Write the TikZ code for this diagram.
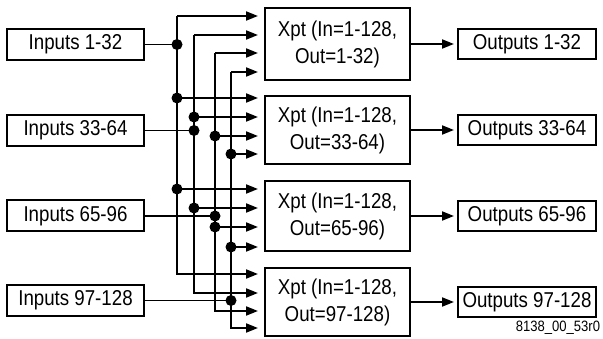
\documentclass[tikz,border=0pt]{standalone}
\usepackage{fontspec}
\setmainfont{Liberation Sans}[FakeStretch=0.87]
\usetikzlibrary{arrows.meta}
\begin{document}
\begin{tikzpicture}[x=1pt,y=-1pt,
  line width=1.9pt,
  iobox/.style={draw,line width=2pt,minimum width=137pt,minimum height=31pt,inner sep=0pt,
     font=\fontsize{21.5}{26}\selectfont},
  xbox/.style={draw,line width=2pt,minimum width=145pt,minimum height=70pt,inner sep=0pt,align=center,
     font=\fontsize{21.5}{27}\selectfont},
  arr/.style={-{Triangle[length=12pt,width=9pt]}},
  dot/.style={circle,fill,inner sep=0pt,minimum size=11pt}]
\useasboundingbox (0,0) rectangle (603,339);
% input boxes
\node[iobox] (in1) at (75.5,44.5) {Inputs 1-32};
\node[iobox] (in2) at (75.5,130.5) {Inputs 33-64};
\node[iobox] (in3) at (75.5,216) {Inputs 65-96};
\node[iobox] (in4) at (75.5,300.5) {Inputs 97-128};
% xpt boxes
\node[xbox,minimum height=72pt] (x1) at (337.5,44) {Xpt (In=1-128,\\Out=1-32)};
\node[xbox,minimum height=68pt] (x2) at (337.5,130) {Xpt (In=1-128,\\Out=33-64)};
\node[xbox,minimum height=70pt] (x3) at (337.5,216) {Xpt (In=1-128,\\Out=65-96)};
\node[xbox,minimum height=68pt] (x4) at (337.5,302) {Xpt (In=1-128,\\Out=97-128)};
% output boxes
\node[iobox,minimum width=138pt,minimum height=30pt] (o1) at (527,44) {Outputs 1-32};
\node[iobox,minimum width=138pt,minimum height=30pt] (o2) at (527,130) {Outputs 33-64};
\node[iobox,minimum width=138pt,minimum height=30pt] (o3) at (527,216) {Outputs 65-96};
\node[iobox,minimum width=138pt,minimum height=30pt] (o4) at (527,302) {Outputs 97-128};
\node[anchor=base east,inner sep=0pt,font=\fontsize{15}{18}\selectfont] (lbl) at (601,332) {8138\_00\_53r0};
% bus x positions
\coordinate (b1) at (177,0);
\coordinate (b2) at (194,0);
\coordinate (b3) at (215,0);
\coordinate (b4) at (231,0);
% arrow end points
\foreach \i/\ya/\yb/\yc/\yd in {1/16/35/53/72, 2/98/117/136/154, 3/189/208/227/247, 4/274/293/311/328}{
  \coordinate (a\i1) at (258,\ya);
  \coordinate (a\i2) at (258,\yb);
  \coordinate (a\i3) at (258,\yc);
  \coordinate (a\i4) at (258,\yd);
}
% bus lines with corners to first and last boxes
\foreach \k in {1,2,3,4}{
  \draw[arr] (b\k |- a1\k) -- (a1\k);
  \draw[arr] (b\k |- a1\k) -- (b\k |- a4\k) -- (a4\k);
  \draw[arr] (b\k |- a2\k) -- (a2\k);
  \draw[arr] (b\k |- a3\k) -- (a3\k);
  \node[dot] (d2\k) at (b\k |- a2\k) {};
  \node[dot] (d3\k) at (b\k |- a3\k) {};
}
% inputs to buses
\draw (in1.east) -- (b1 |- in1.east) node[dot] (j1) {};
\draw (in2.east) -- (b2 |- in2.east) node[dot] (j2) {};
\draw (in3.east) -- (b3 |- in3.east) node[dot] (j3) {};
\draw (in4.east) -- (b4 |- in4.east) node[dot] (j4) {};
% outputs
\foreach \i in {1,2,3,4}{
  \draw[arr,shorten >=3pt] (x\i.east) -- (o\i.west);
}
\end{tikzpicture}
\end{document}
